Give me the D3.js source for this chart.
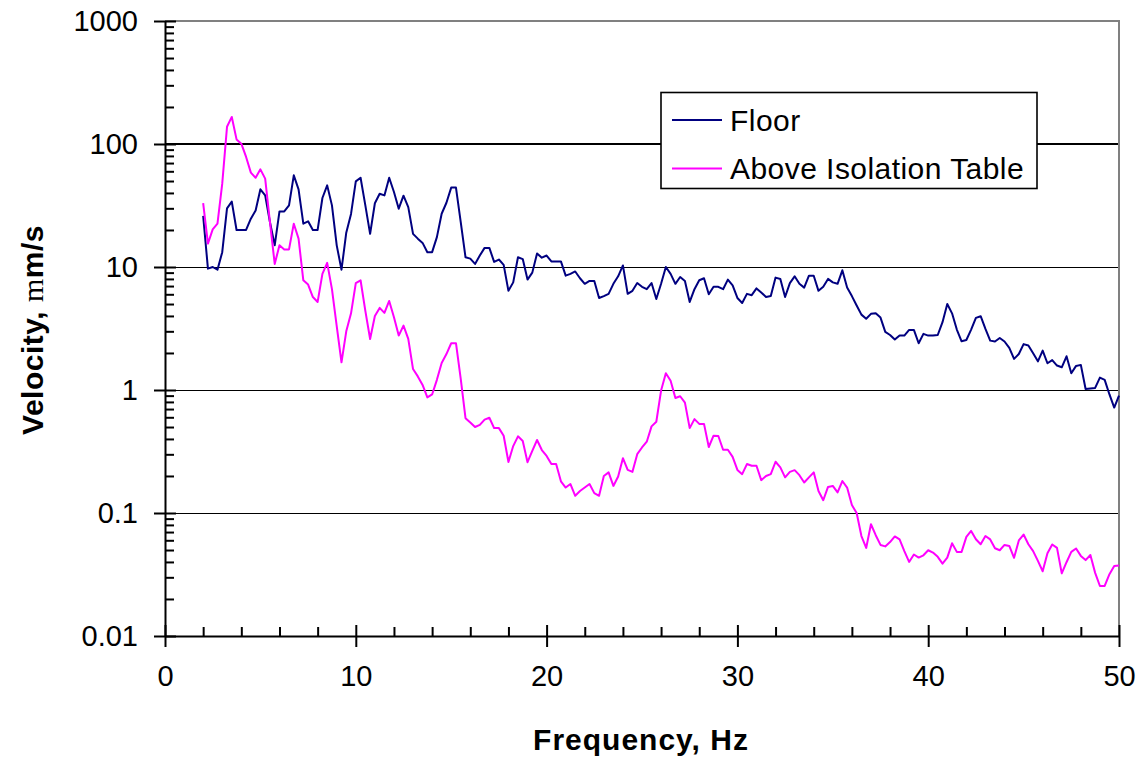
<!DOCTYPE html>
<html>
<head>
<meta charset="utf-8">
<script src="https://cdn.jsdelivr.net/npm/d3@7/dist/d3.min.js"></script>
<style>
  html, body { margin: 0; padding: 0; background: #fff; }
  svg { display: block; font-family: "Liberation Sans", Arial, sans-serif; }
</style>
</head>
<body>
<svg id="chart" width="1142" height="757"></svg>
<script>
// ---- Data ----
const freqStart = 2, freqStep = 0.25;  // Hz, 2..50
const floorVel = [
  26, 9.7, 10, 9.5,
  13.2, 30, 34, 20,
  20, 20, 24.7, 28.8,
  42.8, 38.2, 23.2, 15,
  28.3, 28.3, 31.7, 55.6,
  42.8, 22.5, 23.5, 20,
  20, 36.4, 46.1, 31.7,
  15, 9.5, 19, 27,
  49.7, 53.2, 31.7, 18.6,
  33, 39.4, 38.2, 53.2,
  40.7, 29.8, 38, 30.7,
  18.6, 17, 15.7, 13.2,
  13.2, 17.5, 27.1, 33.3,
  44.2, 44.2, 23.2, 12,
  11.7, 10.6, 12.4, 14.3,
  14.3, 11, 11.5, 10.4,
  6.4, 7.5, 12, 11.6,
  7.9, 9.0, 12.9, 11.9,
  12.4, 11.1, 11.1, 11.1,
  8.5, 8.8, 9.2, 8.1,
  7.3, 7.7, 7.7, 5.6,
  5.8, 6.05, 7.3, 8.4,
  10.3, 6.05, 6.4, 7.4,
  6.9, 6.6, 7.4, 5.5,
  7.3, 10, 8.8, 7.3,
  8.3, 7.7, 5.2, 6.6,
  7.8, 8.1, 6.0, 6.9,
  6.9, 6.6, 7.9, 7.1,
  5.6, 5.1, 6.05, 5.9,
  6.7, 6.2, 5.7, 5.8,
  8.2, 8.0, 5.7, 7.4,
  8.4, 7.3, 6.8, 8.5,
  8.5, 6.4, 6.9, 8.0,
  7.5, 7.3, 9.4, 6.8,
  5.8, 4.86, 4.1, 3.8,
  4.16, 4.2, 3.88, 2.97,
  2.8, 2.57, 2.77, 2.77,
  3.08, 3.08, 2.4, 2.86,
  2.77, 2.77, 2.8, 3.56,
  5.0, 4.2, 3.1, 2.49,
  2.55, 3.1, 3.86, 3.98,
  3.14, 2.52, 2.48, 2.65,
  2.48, 2.2, 1.79, 1.96,
  2.36, 2.3, 1.99, 1.71,
  2.09, 1.65, 1.75, 1.58,
  1.53, 1.88, 1.37, 1.57,
  1.6, 1.02, 1.03, 1.04,
  1.26, 1.21, 0.92, 0.72,
  0.9
];
const tableVel = [
  33, 15.5, 20.2, 22.5,
  47.6, 138, 166, 109,
  100.7, 78.5, 58.5, 53.2,
  62.2, 52.3, 23.2, 10.6,
  15, 13.9, 13.9, 22.5,
  17, 7.8, 7.2, 5.7,
  5.2, 8.8, 10.8, 6.6,
  3.3, 1.68, 3.0, 4.2,
  7.4, 7.8, 4.4, 2.6,
  4.0, 4.65, 4.24, 5.3,
  3.9, 2.77, 3.34, 2.6,
  1.48, 1.29, 1.1, 0.87,
  0.92, 1.21, 1.66, 1.96,
  2.4, 2.4, 1.23, 0.59,
  0.545, 0.5, 0.52, 0.575,
  0.595, 0.49, 0.49, 0.425,
  0.26, 0.35, 0.42, 0.385,
  0.259, 0.32, 0.392, 0.325,
  0.291, 0.25, 0.25, 0.181,
  0.161, 0.172, 0.138, 0.151,
  0.161, 0.172, 0.145, 0.138,
  0.2, 0.214, 0.166, 0.198,
  0.279, 0.224, 0.216, 0.301,
  0.341, 0.38, 0.506, 0.552,
  0.99, 1.37, 1.19, 0.86,
  0.89, 0.79, 0.49, 0.58,
  0.53, 0.53, 0.344, 0.425,
  0.423, 0.327, 0.327, 0.286,
  0.224, 0.207, 0.25, 0.242,
  0.242, 0.185, 0.2, 0.207,
  0.261, 0.235, 0.195, 0.216,
  0.223, 0.203, 0.177, 0.195,
  0.214, 0.151, 0.127, 0.163,
  0.166, 0.147, 0.182, 0.161,
  0.116, 0.1, 0.065, 0.052,
  0.081, 0.066, 0.055, 0.0535,
  0.058, 0.0645, 0.061, 0.049,
  0.04, 0.046, 0.0434, 0.0453,
  0.0498, 0.0477, 0.044, 0.0388,
  0.0434, 0.0567, 0.0483, 0.0483,
  0.064, 0.0715, 0.0612, 0.0557,
  0.065, 0.061, 0.0517, 0.0498,
  0.055, 0.054, 0.0432, 0.0598,
  0.0668, 0.0557, 0.049, 0.0408,
  0.0336, 0.047, 0.0555, 0.052,
  0.0323, 0.0398, 0.0483, 0.0515,
  0.0448, 0.0414, 0.0456, 0.0326,
  0.0255, 0.0255, 0.0318, 0.037,
  0.0375
];
const seriesNames = ["Floor", "Above Isolation Table"];
const seriesColors = ["#000080", "#FF00FF"];
const xTicks = [0, 10, 20, 30, 40, 50];
const xMinorTicks = [2, 4, 6, 8, 12, 14, 16, 18, 22, 24, 26, 28, 32, 34, 36, 38, 42, 44, 46, 48];
const yTicks = [0.01, 0.1, 1, 10, 100, 1000];
const yTickLabels = ["0.01", "0.1", "1", "10", "100", "1000"];

// ---- Layout ----
const L = 165, R = 1119, T = 21, B = 636;
const svg = d3.select("#chart");
const x = d3.scaleLinear().domain([0, 50]).range([L, R]);
const y = d3.scaleLog().domain([0.01, 1000]).range([B, T]);

const freqs = floorVel.map((_, i) => freqStart + i * freqStep);

// gridlines
const gridVals = [0.1, 1, 10, 100];
svg.append("g").selectAll("line").data(gridVals).join("line")
  .attr("x1", L).attr("x2", R)
  .attr("y1", d => d === 100 ? Math.round(y(d)) : Math.round(y(d)) + 0.5)
  .attr("y2", d => d === 100 ? Math.round(y(d)) : Math.round(y(d)) + 0.5)
  .attr("stroke", "#000")
  .attr("shape-rendering", "crispEdges")
  .attr("stroke-width", d => d === 100 ? 2 : 1);

// top and right border (gray)
svg.append("path")
  .attr("d", `M${L},${y(1000)}H${R}V${B}`)
  .attr("fill", "none").attr("stroke", "#808080").attr("stroke-width", 2);

// series
const line = d3.line().x((d, i) => x(freqs[i])).y(d => y(d));
[floorVel, tableVel].forEach((s, k) => {
  svg.append("path").datum(s)
    .attr("d", line)
    .attr("fill", "none")
    .attr("stroke", seriesColors[k])
    .attr("stroke-width", 2)
    .attr("stroke-linejoin", "round");
});

// legend
const lg = svg.append("g");
lg.append("rect").attr("x", 661).attr("y", 92.5).attr("width", 376).attr("height", 96)
  .attr("fill", "#fff").attr("stroke", "#000").attr("stroke-width", 1.6);
seriesNames.forEach((n, k) => {
  const cy = 120 + k * 48.5;
  lg.append("line").attr("x1", 672).attr("x2", 722).attr("y1", cy).attr("y2", cy)
    .attr("stroke", seriesColors[k]).attr("stroke-width", 2);
  lg.append("text").attr("x", 730).attr("y", cy + 10.5)
    .attr("font-size", 30).attr("letter-spacing", 0.45).attr("fill", "#000").text(n);
});

// axes
function styleAxis(g) {
  g.select(".domain").attr("stroke", "#000").attr("stroke-width", 2);
  g.selectAll(".tick line").attr("stroke", "#000").attr("stroke-width", 2);
  g.selectAll("text").attr("font-size", 29).attr("fill", "#000")
    .attr("font-family", "'Liberation Sans', Arial, sans-serif");
}
// x axis
svg.append("g").attr("transform", `translate(0,${B})`)
  .call(d3.axisBottom(x).tickValues(xTicks).tickSize(11).tickPadding(18).tickSizeOuter(0).tickFormat(d3.format("d")))
  .call(styleAxis);
svg.append("g").attr("transform", `translate(0,${B})`)
  .call(d3.axisTop(x).tickValues(xTicks).tickSize(11).tickSizeOuter(0).tickFormat(""))
  .call(styleAxis).call(g => g.select(".domain").remove());
svg.append("g").attr("transform", `translate(0,${B})`)
  .call(d3.axisTop(x).tickValues(xMinorTicks).tickSize(9).tickSizeOuter(0).tickFormat(""))
  .call(styleAxis).call(g => g.select(".domain").remove());

// y axis
svg.append("g").attr("transform", `translate(${L},0)`)
  .call(d3.axisLeft(y).tickValues(yTicks).tickSize(11).tickPadding(16).tickSizeOuter(0)
    .tickFormat((d, i) => yTickLabels[i]))
  .call(styleAxis);
svg.append("g").attr("transform", `translate(${L},0)`)
  .call(d3.axisRight(y).tickValues(yTicks).tickSize(11).tickSizeOuter(0).tickFormat(""))
  .call(styleAxis).call(g => g.select(".domain").remove());
const yMinor = [];
[0.01, 0.1, 1, 10, 100].forEach(dec => { for (let m = 2; m <= 9; m++) yMinor.push(dec * m); });
svg.append("g").attr("transform", `translate(${L},0)`)
  .call(d3.axisRight(y).tickValues(yMinor).tickSize(9).tickSizeOuter(0).tickFormat(""))
  .call(styleAxis).call(g => g.select(".domain").remove());

// axis titles
svg.append("text").attr("x", 641).attr("y", 750)
  .attr("text-anchor", "middle").attr("font-size", 30).attr("letter-spacing", 1).attr("font-weight", "bold")
  .text("Frequency, Hz");
const yt = svg.append("text")
  .attr("transform", `translate(43,330) rotate(-90)`)
  .attr("text-anchor", "middle").attr("font-size", 30).attr("letter-spacing", 0.5).attr("font-weight", "bold");
yt.append("tspan").text("Velocity, ");
yt.append("tspan").attr("font-family", "'Liberation Serif', 'Times New Roman', serif").attr("font-weight", "normal").text("m");
yt.append("tspan").text("m/s");
</script>
</body>
</html>
